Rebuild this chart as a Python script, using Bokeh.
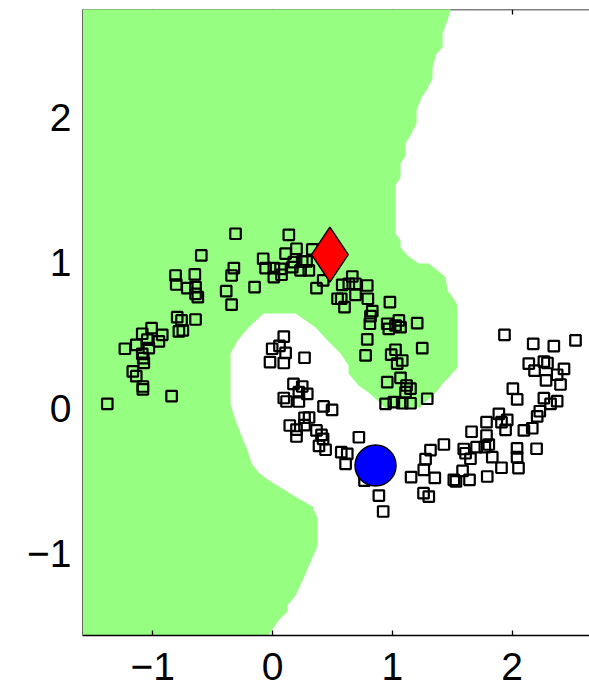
from bokeh.plotting import figure
from bokeh.models import Range1d, LinearAxis, FixedTicker
from bokeh.embed import file_html
from bokeh.resources import INLINE

# ---------------- data ----------------
# upper moon (squares)
upper_x = [-1.380, -0.843, -1.083, -1.083, -1.167, -1.138, -1.088, -1.080, -1.075, -1.233,
           -1.138, -1.033, -1.046, -0.949, -1.088, -1.010, -0.921, -0.796, -0.760, -0.643,
           -0.782, -0.749, -0.810, -0.804, -0.712, -0.649, -0.643, -0.643, -0.624, -0.595,
           -0.309, -0.323, -0.342, -0.387, -0.342, -0.150, -0.078, -0.058, 0.011, 0.067,
           0.011, 0.075, 0.109, 0.136, 0.200, 0.178, 0.165, 0.248, 0.234, 0.284,
           0.303, 0.332, 0.367, 0.423, 0.582, 0.637, 0.666, 0.693, 0.791, 0.574,
           0.601, 0.693, 0.796, 0.833, 0.818, 0.813, 0.791, 0.777, 0.980, 0.958,
           0.971, 1.055, 1.069, 1.208, 1.250, 1.027, 0.991, 1.083, 1.041, 0.958,
           1.069, 1.119, 1.152, 1.111, 1.292, 1.013, 0.944, 1.083, 1.152, 0.543, 1.027]
upper_y = [0.030, 0.083, 0.149, 0.129, 0.253, 0.220, 0.374, 0.344, 0.312, 0.409,
           0.436, 0.413, 0.471, 0.459, 0.512, 0.551, 0.505, 0.626, 0.604, 0.610,
           0.528, 0.535, 0.913, 0.851, 0.826, 0.920, 0.833, 0.787, 0.764, 1.051,
           1.200, 0.964, 0.913, 0.805, 0.712, 0.833, 1.028, 0.964, 0.964, 0.959,
           0.902, 0.918, 1.063, 1.193, 1.097, 1.005, 0.970, 1.010, 0.948, 1.010,
           0.948, 1.092, 0.826, 0.879, 0.849, 0.856, 0.906, 0.856, 0.844, 0.753,
           0.695, 0.780, 0.753, 0.668, 0.633, 0.581, 0.473, 0.363, 0.730, 0.581,
           0.546, 0.604, 0.557, 0.585, 0.413, 0.402, 0.368, 0.328, 0.306, 0.179,
           0.209, 0.156, 0.134, 0.110, 0.065, 0.041, 0.030, 0.034, 0.034, 0.753, 0.569]

# lower moon (squares)
lower_x = [0.094, -0.003, 0.058, 0.109, -0.021, 0.094, 0.267, 0.175, 0.248, 0.220,
           0.290, 0.094, 0.117, 0.220, 0.426, 0.497, 0.267, 0.305, 0.267, 0.144,
           0.200, 0.200, 0.367, 0.409, 0.422, 0.388, 0.443, 0.574, 0.624, 0.610,
           0.721, 0.768, 0.888, 0.924, 1.157, 1.263, 1.278, 1.319, 1.431, 1.355,
           1.261, 1.305, 1.514, 1.532, 1.587, 1.597, 1.612, 1.653, 1.645, 1.704,
           1.773, 1.806, 1.835, 1.793, 1.662, 1.787, 1.787, 1.890, 1.960, 1.912,
           1.946, 1.912, 2.042, 2.042, 2.054, 2.099, 2.169, 2.205, 2.210, 2.232,
           2.266, 2.322, 2.377, 2.007, 2.043, 2.284, 2.405, 2.377, 2.434, 2.140,
           2.188, 2.266, 2.296, 1.937, 2.177, 2.349, 2.530]
lower_y = [0.493, 0.409, 0.428, 0.380, 0.317, 0.311, 0.347, 0.167, 0.149, 0.110,
           0.098, 0.070, 0.046, 0.046, 0.012, -0.012, -0.066, -0.064, -0.116, -0.119,
           -0.147, -0.195, -0.153, -0.184, -0.211, -0.260, -0.286, -0.303, -0.314, -0.383,
           -0.200, -0.498, -0.601, -0.711, -0.474, -0.424, -0.350, -0.288, -0.250, -0.480,
           -0.585, -0.608, -0.493, -0.504, -0.432, -0.281, -0.310, -0.348, -0.493, -0.268,
           -0.268, -0.250, -0.337, -0.470, -0.162, -0.096, -0.188, -0.039, -0.080, -0.096,
           -0.149, -0.410, -0.277, -0.337, -0.412, -0.153, -0.138, -0.279, -0.057, -0.021,
           0.069, 0.030, 0.048, 0.134, 0.060, 0.191, 0.163, 0.230, 0.270, 0.306,
           0.259, 0.321, 0.311, 0.505, 0.443, 0.427, 0.466]

# labelled points
positive_x = [0.479]
positive_y = [1.056]
negative_x = [0.860]
negative_y = [-0.394]

# decision region (green) outline
region_x = [-1.60, 1.51, 1.461, 1.420, 1.420, 1.370, 1.336, 1.336, 1.286, 1.244,
            1.203, 1.203, 1.161, 1.111, 1.111, 1.069, 1.069, 1.027, 1.027, 1.069,
            1.069, 1.127, 1.219, 1.303, 1.378, 1.445, 1.461, 1.511, 1.545, 1.545,
            1.470, 1.420, 1.378, 1.319, 1.261, 1.236, 0.944, 0.877, 0.802, 0.718,
            0.635, 0.635, 0.568, 0.459, 0.359, 0.276, 0.192, -0.075, -0.200, -0.292,
            -0.351, -0.351, -0.309, -0.267, -0.209, -0.175, -0.117, -0.042, 0.067, 0.175,
            0.259, 0.334, 0.376, 0.376, 0.334, 0.251, 0.192, 0.125, 0.125, 0.050,
            -0.065, -1.60]
region_y = [2.80, 2.80, 2.668, 2.579, 2.482, 2.441, 2.345, 2.269, 2.187, 2.138,
            2.049, 1.959, 1.891, 1.822, 1.739, 1.684, 1.588, 1.533, 1.202, 1.154,
            1.106, 1.051, 0.996, 0.996, 0.948, 0.900, 0.810, 0.755, 0.707, 0.280,
            0.211, 0.170, 0.122, 0.074, 0.032, 0.005, -0.002, 0.053, 0.108, 0.156,
            0.239, 0.294, 0.376, 0.466, 0.555, 0.604, 0.652, 0.652, 0.555, 0.466,
            0.376, 0.032, -0.085, -0.174, -0.291, -0.381, -0.443, -0.491, -0.546, -0.601,
            -0.642, -0.677, -0.759, -0.945, -1.028, -1.186, -1.289, -1.358, -1.399, -1.461,
            -1.60, -1.60]

x_ticks = [-1, 0, 1, 2]
x_tick_labels = ["\u22121", "0", "1", "2"]
y_ticks = [-1, 0, 1, 2]
y_tick_labels = ["\u22121", "0", "1", "2"]

x_limits = (-1.587, 2.647)
y_limits = (-1.564, 2.743)

# ---------------- styles ----------------
GREEN = "#96FF82"
FONT = "Liberation Sans"
FONT_SIZE = "39px"

p = figure(width=589, height=692, output_backend="svg", toolbar_location=None,
           x_range=Range1d(*x_limits), y_range=Range1d(*y_limits),
           x_axis_location=None, y_axis_location=None,
           min_border_left=82, min_border_right=0, min_border_top=9, min_border_bottom=57,
           background_fill_color="white", border_fill_color="white")
p.outline_line_color = None
p.grid.visible = False

# region
p.patch(region_x, region_y, fill_color=GREEN, line_color=None)

# data squares
for xs, ys in ((upper_x, upper_y), (lower_x, lower_y)):
    p.scatter(xs, ys, marker="square", size=10.5, fill_color=None,
              line_color="black", line_width=2.2)

# labelled points
p.scatter(negative_x, negative_y, marker="circle", size=41, fill_color="#0000FF",
          line_color="black", line_width=1.5)
p.scatter(positive_x, positive_y, marker="diamond", size=55, fill_color="#FF0000",
          line_color="black", line_width=1.5)


def style_axis(ax, ticks):
    ax.ticker = FixedTicker(ticks=ticks)
    ax.axis_line_color = "black"
    ax.axis_line_width = 1.3
    ax.major_tick_line_color = "black"
    ax.major_tick_line_width = 1.3
    ax.major_tick_in = 5
    ax.major_tick_out = 0
    ax.minor_tick_in = 0
    ax.minor_tick_out = 0
    ax.major_label_text_font = FONT
    ax.major_label_text_font_size = FONT_SIZE
    ax.major_label_text_color = "black"


bottom_axis = LinearAxis()
style_axis(bottom_axis, x_ticks)
bottom_axis.major_label_overrides = dict(zip(x_ticks, x_tick_labels))
bottom_axis.major_label_standoff = 17
p.add_layout(bottom_axis, "below")

left_axis = LinearAxis()
style_axis(left_axis, y_ticks)
left_axis.major_label_overrides = dict(zip(y_ticks, y_tick_labels))
left_axis.major_label_standoff = 11
left_axis.major_tick_in = 0
left_axis.axis_line_color = "#666666"
left_axis.axis_line_width = 1
p.add_layout(left_axis, "left")

# top frame edge: ticks only, drawn under the region like the reference
top_axis = LinearAxis(level="underlay")
style_axis(top_axis, x_ticks)
top_axis.major_label_overrides = {t: "" for t in x_ticks}
top_axis.major_label_text_font_size = "1px"
top_axis.major_label_standoff = 0
p.add_layout(top_axis, "above")

open("out.html", "w").write(file_html(p, INLINE))
